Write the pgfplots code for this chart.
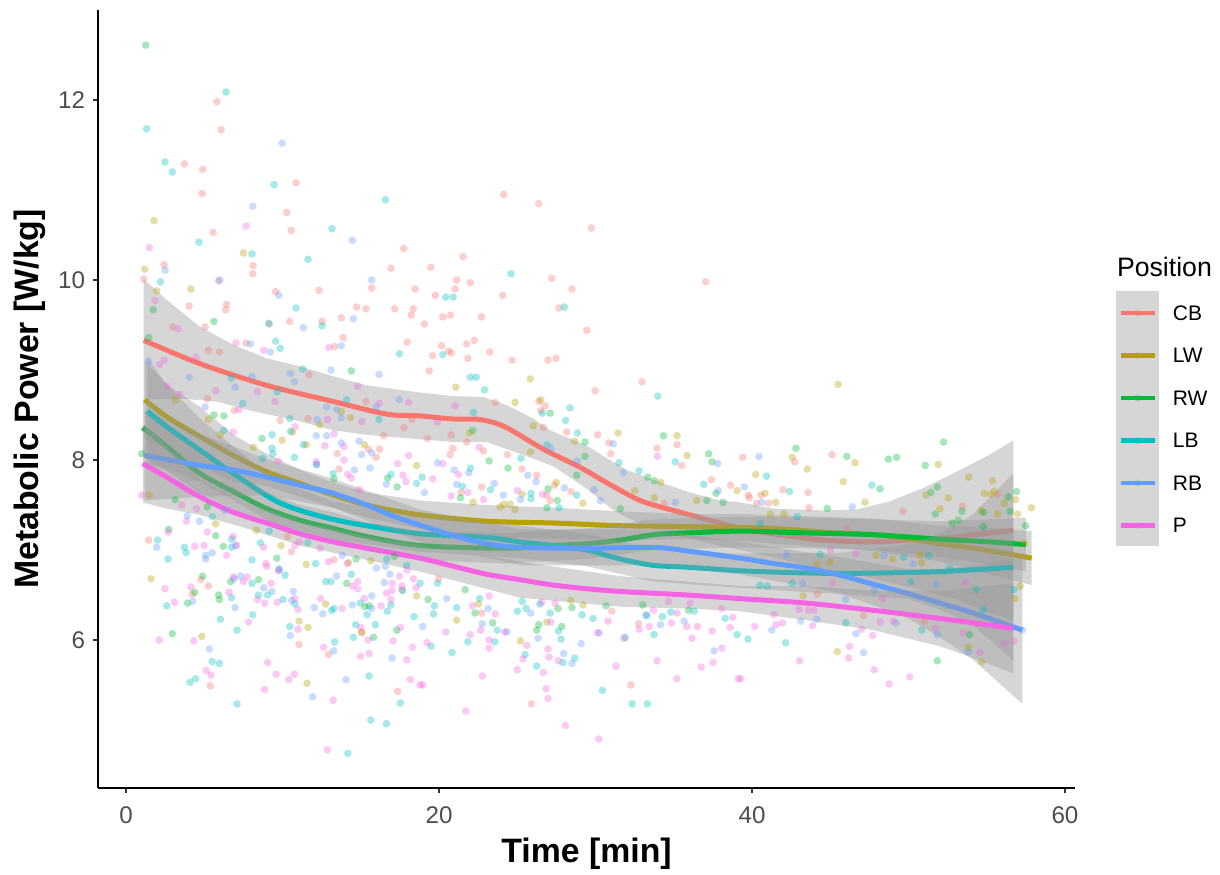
\documentclass[border=0pt]{standalone}
\usepackage{fontspec}
\setmainfont{Liberation Sans}
\usepackage{pgfplots}
\pgfplotsset{compat=1.18}
\definecolor{cCB}{HTML}{F8766D}
\definecolor{cLW}{HTML}{B79F00}
\definecolor{cRW}{HTML}{00BA38}
\definecolor{cLB}{HTML}{00BFC4}
\definecolor{cRB}{HTML}{619CFF}
\definecolor{cP}{HTML}{F564E3}
\definecolor{band}{HTML}{999999}
\definecolor{ticktext}{HTML}{4D4D4D}
\definecolor{tickline}{HTML}{333333}
\pgfplotsset{
 pts/.style={only marks,mark=*,mark size=2.3pt,forget plot,mark options={draw=#1,draw opacity=0,line width=0pt,fill=#1,fill opacity=.35}},
 rib/.style={fill=band,fill opacity=.4,draw=none,forget plot},
 fit/.style={draw=#1,line width=3pt,smooth,tension=.5,no markers,forget plot,line join=round}
}
\begin{document}
\begin{tikzpicture}[x=1pt,y=1pt]
\useasboundingbox (0,0) rectangle (732,525);
\begin{axis}[
 at={(58.8pt,52.2pt)},anchor=south west,
 scale only axis,width=586.2pt,height=466.8pt,
 xmin=-1.79,xmax=60.64,ymin=4.356,ymax=13,
 axis x line*=bottom,axis y line*=left,
 axis line style={-,line width=.85pt,black},
 xtick={0,20,40,60},ytick={6,8,10,12},
 tick style={tickline,line width=.7pt},
 tick align=outside,major tick length=3pt,
 tick label style={font=\fontsize{14.5}{14.5}\selectfont,text=ticktext},
 xticklabel style={yshift=-4.6pt},
 yticklabel style={xshift=-1.2pt},
 /pgf/number format/assume math mode=true,
 xtick pos=bottom,ytick pos=left,
 xlabel={Time [min]},ylabel={Metabolic Power [W/kg]},
 label style={font=\bfseries\fontsize{20.3}{20.3}\selectfont},
 xlabel style={at={(axis description cs:0.5,0)},anchor=center,yshift=-39.3pt},
 ylabel style={at={(axis description cs:0,0.5)},anchor=center,yshift=41pt},
 clip=false
]
% scatter
\addplot[pts=cCB] coordinates {(5.8,11.98)(6.08,11.67)(3.73,11.29)(4.9,11.23)(4.86,10.96)(10.86,11.08)(10.27,10.75)(10.56,10.55)(5.56,10.53)(2.43,10.17)(8.12,10.16)(17.74,10.35)(16.93,10.13)
(24.14,10.95)(26.37,10.85)(29.74,10.58)(21.54,10.26)(19.47,10.14)(21.13,10.0)(22.0,9.97)(27.2,10.02)(28.5,9.9)(21.03,9.9)(19.77,9.83)(24.07,9.83)(37.04,9.98)(27.67,9.69)(20.24,9.59)(20.73,9.61)(22.71,9.59)(19.07,9.51)(29.44,9.44)(22.26,9.33)(21.77,9.29)(20.17,9.27)(20.6,9.21)(20.79,9.19)(19.6,9.16)(21.84,9.13)(23.24,9.2)(24.67,9.11)(26.97,9.11)(27.48,9.13)(19.37,8.99)(32.97,8.87)(29.97,8.77)(26.39,8.65)(26.78,8.6)(26.5,8.55)(23.6,8.64)(26.67,8.36)
(1.13,10.01)(8.1,10.07)(5.92,9.99)(9.56,9.87)(12.33,9.885)(15.7,9.91)(18.47,9.9)(4.03,9.71)(6.43,9.73)(6.37,9.67)(14.74,9.7)(15.34,9.68)(17.17,9.68)(18.36,9.68)(18.23,9.61)(13.76,9.58)(10.46,9.54)(12.53,9.54)(9.16,9.51)(5.05,9.48)(2.98,9.48)(13.87,9.36)(7.67,9.3)(17.96,9.31)(13.33,9.26)(5.26,9.22)(5.97,9.2)(11.69,8.95)(5.2,8.68)(15.34,8.65)(6.92,8.55)(9.84,8.44)(11.63,8.46)(17.77,8.36)(18.28,8.45)(16.47,8.27)(13.5,8.07)(16.21,8.12)(15.49,8.12)(15.98,8.03)(13.61,7.9)
(1.45,7.11)(10.57,6.98)(13.29,6.89)(4.79,6.67)(5.26,6.6)(4.22,6.51)(11.06,5.95)(12.93,5.84)(5.39,5.49)(17.36,5.43)(17.62,6.56)(10.33,7.15)(15.06,6.08)
(25.9,5.29)(32.27,5.5)(22.73,6.3)(32.74,6.18)(31.04,6.32)(19.98,6.68)(30.14,8.28)(30.85,8.19)(30.97,8.07)(33.93,8.13)(35.21,8.17)(35.51,7.94)(37.4,7.78)(38.64,7.72)(20.88,8.13)(20.71,8.06)(21.77,8.2)(22.84,8.1)(24.37,8.06)(25.31,7.9)(26.24,7.83)(27.37,7.72)(22.73,7.7)(21.41,7.64)(26.88,7.61)(27.1,7.55)(28.44,7.65)(34.4,7.52)(20.77,8.28)(19.26,8.24)(28.16,8.31)
(39.4,8.03)(42.74,7.98)(45.11,8.06)(41.98,7.67)(43.58,7.64)(39.76,7.61)(40.57,7.61)(41.06,7.52)(40.29,7.52)(43.64,7.47)(49.65,7.43)(53.44,7.49)(55.69,7.62)(46.05,7.24)(44.17,6.51)(47.13,6.27)(39.83,7.58)(51.01,6.21)};
\addplot[pts=cLW] coordinates {(1.79,10.66)(7.5,10.3)(1.2,10.12)(21.07,8.81)(25.84,8.9)(26.5,8.67)(24.86,8.64)(26.03,8.38)
(1.96,9.88)(4.15,9.9)(5.26,8.45)(10.63,8.31)(9.97,8.22)(8.14,8.14)(11.52,8.17)(15.23,8.17)(12.38,8.39)(13.76,8.54)(14.34,8.47)(6.01,8.28)(18.57,7.94)(1.49,7.61)(3.15,8.67)
(5.73,7.29)(8.33,7.22)(9.9,7.05)(11.52,6.84)(15.64,6.88)(1.6,6.68)(4.84,6.04)(11.06,6.21)(11.63,6.14)(12.76,6.4)(11.57,5.52)(14.21,6.86)(18.57,6.49)(15.06,6.09)
(21.13,6.22)(25.2,5.99)(26.88,6.2)(22.52,6.4)(29.2,6.39)(28.42,6.44)(31.44,8.3)(35.21,8.27)(35.85,8.05)(34.17,7.75)(32.5,7.66)(33.76,7.58)(27.5,7.75)(28.67,8.21)(25.84,8.09)(22.18,7.53)(25.31,7.62)(23.9,7.48)(24.14,7.51)(24.54,7.51)(24.86,7.45)(29.19,7.52)(39.05,7.66)(36.47,7.55)(21.94,8.3)
(42.57,8.03)(46.58,7.97)(43.53,7.9)(40.23,7.84)(45.83,7.76)(47.22,7.53)(51.9,7.95)(53.84,7.81)(55.37,7.77)(51.11,7.61)(52.54,7.58)(52.01,7.46)(54.84,7.63)(55.48,7.65)(55.25,7.62)(56.12,7.52)(56.84,7.56)(57.85,7.47)(56.97,7.4)(54.63,7.44)(55.69,7.4)(40.83,7.63)(41.51,7.53)(42.06,7.4)(41.17,7.4)(45.45,5.87)(54.67,5.76)(53.84,5.92)(57.14,6.6)(56.8,6.46)(43.28,6.49)(47.92,6.94)(44.15,6.84)(44.98,6.86)(50.73,6.95)(50.84,6.86)(48.99,6.9)(57.42,7.08)(45.5,8.84)};
\addplot[pts=cRW] coordinates {(1.26,12.61)(27.1,8.52)(22.16,8.33)
(5.62,9.54)(1.73,9.67)(1.45,9.36)(14.4,8.99)(5.62,8.5)(6.26,8.49)(8.69,8.24)(16.72,7.8)(17.32,7.7)(13.29,7.79)(1.0,8.07)(3.15,7.56)(5.2,7.48)
(2.73,7.23)(5.73,7.16)(6.22,7.04)(9.63,6.91)(4.9,6.71)(6.69,6.65)(8.46,6.67)(4.39,6.53)(3.94,6.41)(5.92,6.5)(5.97,6.45)(2.96,6.07)(14.1,6.63)(14.7,6.9)(15.27,6.37)(15.53,6.38)(17.3,6.11)(15.81,6.03)(17.15,6.93)
(19.3,6.45)(21.67,6.56)(22.3,6.3)(23.43,6.19)(26.37,6.17)(26.24,6.11)(27.84,6.15)(30.67,6.38)(28.5,6.36)(27.61,6.35)(35.94,6.33)(33.02,6.39)(29.33,8.2)(29.33,8.04)(34.34,8.27)(37.23,8.07)(37.45,7.98)(37.7,7.63)(23.2,7.99)(24.41,7.91)(21.37,7.58)(27.56,7.55)(26.9,7.47)(28.8,7.83)(33.34,7.81)(33.76,7.77)(31.59,7.46)(37.11,7.55)(38.15,7.53)(26.97,7.68)
(42.81,8.13)(46.05,8.04)(48.71,8.01)(49.24,8.03)(51.07,7.94)(52.24,8.2)(48.18,7.68)(44.81,7.46)(51.43,7.64)(51.84,7.7)(56.91,7.65)(56.38,7.59)(56.48,7.43)(51.71,7.4)(52.78,7.3)(53.18,7.33)(53.42,7.43)(54.78,7.42)(57.48,7.27)(51.84,5.77)(54.78,7.26)(53.88,6.06)};
\addplot[pts=cLB] coordinates {(1.32,11.68)(6.39,12.09)(2.49,11.31)(2.96,11.2)(9.46,11.06)(16.57,10.89)(13.16,10.57)(4.66,10.42)(8.05,10.29)(11.63,10.23)
(24.6,10.07)(20.43,9.81)(20.9,9.81)(28.01,9.7)(20.24,9.17)(22.0,8.92)(22.37,8.92)(22.9,8.78)(33.98,8.71)(28.37,8.58)(28.08,8.44)(26.6,8.52)(22.2,8.53)
(2.2,9.98)(10.86,9.69)(9.12,9.52)(12.53,9.49)(9.56,9.32)(9.86,9.24)(17.47,9.18)(11.29,9.01)(6.73,8.91)(9.67,8.76)(7.46,8.63)(14.1,8.67)(10.46,8.46)(16.17,8.45)(6.26,8.33)(10.52,8.32)(9.33,8.28)(9.33,8.13)(9.39,8.07)(11.33,8.17)(8.73,8.02)(10.76,8.03)(12.18,7.95)(13.23,7.85)(16.93,7.84)(18.57,7.74)
(2.02,7.11)(2.69,6.9)(5.52,7.37)(3.73,7.03)(3.84,6.97)(6.75,7.12)(6.75,7.03)(8.58,7.08)(8.05,6.89)(10.16,6.72)(9.8,6.79)(8.05,6.63)(9.05,6.5)(8.46,6.5)(6.75,6.47)(2.6,6.38)(6.03,6.23)(8.09,6.28)(7.09,6.11)(10.8,6.4)(10.03,6.45)(12.76,6.65)(13.1,6.65)(14.4,6.73)(14.97,6.41)(13.14,6.33)(13.29,6.35)(15.4,6.28)(15.93,6.17)(16.7,6.32)(16.93,6.39)(18.4,6.26)(10.46,6.15)(14.53,6.03)(14.68,6.17)(13.33,5.98)(5.5,5.76)(5.97,5.74)(4.09,5.53)(4.45,5.57)(7.09,5.29)(15.53,5.6)(17.53,5.3)(15.64,5.11)(16.64,5.07)(14.17,4.74)(12.12,6.85)(9.14,7.21)(11.61,7.08)(16.66,6.9)(17.94,6.83)(18.79,6.63)(17.68,6.55)
(19.49,5.93)(20.83,5.86)(21.84,5.98)(23.56,5.98)(23.73,6.11)(25.5,5.84)(26.24,5.71)(27.8,6.01)(27.63,6.1)(27.91,5.75)(28.67,5.8)(30.44,5.44)(32.34,5.29)(33.32,5.29)(31.89,6.03)(33.74,6.06)(39.05,6.06)(34.28,6.26)(34.81,6.31)(38.28,6.24)(36.3,6.32)(33.27,6.27)(29.84,6.24)(29.14,6.28)(25.01,6.32)(25.56,6.35)(26.44,6.4)(27.1,6.3)(19.71,6.38)(19.64,6.29)(21.13,6.36)(22.6,6.46)(19.9,6.63)(25.31,6.43)(21.5,7.71)(22.01,7.91)(23.3,7.67)(25.88,7.63)(25.88,7.57)(28.8,7.61)(27.67,7.47)(26.9,8.17)(28.84,8.3)(25.24,8.02)(31.5,7.97)(32.78,7.88)(36.92,7.73)(35.1,7.98)(18.92,7.81)
(40.93,7.82)(42.4,7.65)(47.66,7.72)(51.29,6.94)(39.74,6.01)(42.15,5.97)(46.0,6.19)(50.84,6.11)(40.51,6.61)(40.98,6.6)(42.57,6.63)(42.89,7.37)(40.51,7.29)(49.69,6.92)(44.34,6.95)(50.14,6.65)(54.35,6.56)(54.78,6.34)(52.65,6.8)(56.74,6.56)};
\addplot[pts=cRB] coordinates {(9.97,11.52)(8.1,10.82)(14.46,10.44)(2.5,10.11)(5.99,10.0)(9.76,9.83)(15.7,10.0)(11.33,9.47)(14.53,9.57)(7.95,9.29)(9.22,9.2)(13.76,9.27)(13.1,9.0)(16.17,8.95)(1.45,9.1)(4.03,8.92)(6.97,8.81)(8.05,8.93)(10.5,8.96)(10.76,8.87)(5.05,8.59)(12.82,8.59)(13.46,8.56)(15.98,8.59)(17.47,8.67)(13.76,8.47)(12.21,8.45)(12.16,8.27)(12.82,8.27)(13.76,8.19)(14.89,8.21)(15.06,8.06)(15.7,8.08)(12.16,7.95)(14.59,7.89)(15.59,7.91)(16.64,7.73)
(3.92,7.38)(4.69,7.32)(1.96,7.03)(5.5,6.97)(5.09,6.94)(5.09,6.9)(6.99,7.05)(7.33,6.71)(6.92,6.68)(8.8,6.58)(9.33,6.54)(10.69,6.54)(10.59,6.44)(4.26,6.43)(6.97,6.36)(12.04,6.36)(12.57,6.29)(14.46,6.39)(15.7,6.49)(15.7,6.35)(13.46,6.71)(16.0,6.8)(16.57,6.82)(16.87,6.73)(16.51,6.64)(10.5,6.05)(5.33,5.9)(13.27,5.88)(17.0,5.8)(14.06,5.56)(11.93,5.37)(6.3,7.44)(9.76,6.78)(13.82,6.94)
(18.96,6.15)(20.49,6.46)(23.13,6.35)(22.77,6.18)(24.33,6.09)(26.33,6.02)(27.97,5.85)(28.5,5.74)(29.08,5.96)(37.58,5.88)(30.23,6.08)(34.15,6.17)(35.66,6.21)(33.23,6.28)(25.86,6.3)(19.9,7.97)(20.96,7.89)(21.9,7.86)(21.13,7.73)(19.07,7.64)(23.54,7.74)(24.11,7.61)(25.2,7.56)(25.67,7.83)(26.2,7.76)(28.01,7.69)(29.91,7.67)(30.31,7.55)(31.78,7.86)(35.1,7.53)(37.81,7.96)(37.85,7.66)(31.14,8.18)(27.16,8.13)(28.84,7.99)
(40.44,8.04)(39.51,7.7)(40.64,7.53)(46.41,7.48)(43.11,6.21)(41.27,6.11)(44.15,6.23)(46.64,6.07)(47.13,5.86)(53.82,5.87)(51.84,6.06)(57.27,6.11)(49.2,6.19)(48.43,6.94)(42.21,6.95)(45.98,6.45)(47.81,6.55)(51.78,6.62)(50.3,6.85)(43.23,6.63)};
\addplot[pts=cP] coordinates {(7.67,10.6)(1.49,10.36)(21.03,8.6)(19.9,8.42)
(1.85,9.77)(3.32,9.46)(7.03,9.3)(8.8,9.22)(12.97,9.25)(2.13,9.06)(2.43,9.11)(4.47,9.14)(2.62,8.82)(5.73,8.77)(3.43,8.73)(8.39,8.76)(9.52,8.65)(14.8,8.82)(16.17,8.63)(18.06,8.64)(7.22,8.56)(12.87,8.45)(15.06,8.43)(10.8,8.37)(6.86,8.31)(13.29,8.29)(12.7,8.16)(13.93,8.15)(9.73,7.99)(12.16,7.98)(13.93,8.0)(17.36,7.96)(18.06,8.05)(14.17,7.84)(14.4,7.8)(17.7,7.83)(17.89,7.76)(1.0,7.61)(3.56,7.5)(4.5,7.46)(14.89,7.67)
(3.86,7.32)(2.69,7.2)(5.2,7.2)(6.86,7.15)(4.39,7.04)(4.99,7.05)(7.07,7.05)(6.43,6.94)(8.8,7.03)(10.8,7.05)(8.93,6.85)(8.99,6.82)(9.76,6.77)(12.93,6.87)(14.14,6.85)(2.49,6.57)(4.15,6.59)(3.09,6.42)(6.86,6.7)(7.75,6.7)(7.5,6.65)(9.27,6.63)(6.58,6.53)(8.39,6.45)(8.86,6.41)(9.67,6.42)(10.8,6.46)(10.99,6.34)(12.44,6.46)(13.8,6.35)(15.23,6.46)(16.3,6.38)(16.93,6.45)(17.0,6.63)(17.0,6.55)(16.64,6.52)(17.47,6.71)(17.64,6.6)(18.36,6.68)(18.53,6.58)(17.96,6.78)(14.8,6.65)(14.46,6.6)(14.8,6.57)(7.82,6.2)(2.13,6.0)(4.33,5.99)(10.99,6.12)(12.63,5.92)(14.99,5.82)(15.53,5.85)(14.99,6.14)(15.46,6.0)(17.06,5.99)(17.53,6.14)(18.3,5.92)(17.94,5.78)(9.05,5.75)(5.13,5.66)(5.43,5.61)(9.59,5.62)(10.76,5.62)(10.4,5.56)(8.86,5.45)(13.23,5.33)(18.17,5.56)(12.87,4.78)(18.79,5.5)(12.4,7.02)(11.06,7.09)
(18.96,5.5)(21.71,5.21)(22.77,5.6)(28.08,5.05)(30.21,4.9)(26.67,5.64)(26.84,5.46)(26.97,5.35)(25.01,5.67)(25.37,5.79)(25.61,5.94)(27.03,5.81)(26.97,5.9)(27.63,5.77)(31.31,5.71)(33.93,5.77)(36.75,5.7)(37.51,5.75)(38.07,5.91)(35.19,5.57)(39.13,5.57)(20.43,6.09)(22.0,6.06)(22.67,6.11)(23.2,6.0)(23.2,5.91)(23.6,6.29)(24.2,6.09)(19.24,5.97)(30.8,6.21)(31.82,6.02)(32.8,6.12)(33.44,6.15)(34.85,6.19)(35.21,6.3)(35.85,6.15)(36.51,6.15)(36.17,6.02)(37.45,6.1)(38.6,6.14)(38.77,6.25)(30.12,6.08)(27.14,6.2)(22.13,6.38)(23.2,6.49)(26.56,6.42)(27.42,6.41)(33.7,6.33)(34.66,6.43)(36.04,6.41)(38.07,6.35)(20.77,7.6)(19.6,7.79)(20.24,7.96)(21.24,7.84)(21.84,7.64)(22.84,7.56)(25.01,7.66)(26.61,7.62)(22.56,8.14)(33.95,8.04)
(40.17,6.15)(41.4,6.28)(41.53,6.17)(41.94,6.19)(43.87,6.16)(43.04,5.77)(46.24,5.93)(46.17,5.8)(47.0,6.12)(47.71,6.05)(47.81,5.67)(48.77,5.51)(50.07,5.59)(48.18,6.2)(49.03,6.21)(39.27,5.57)(56.14,5.96)(56.74,5.99)(54.57,5.86)(51.71,6.13)(53.5,6.08)(43.6,6.33)(43.0,6.34)(43.96,6.33)(48.35,6.46)(45.13,6.63)(46.64,6.96)(53.63,6.64)(45.02,7.0)};
% CB
\addplot[rib] coordinates {(1.13,10.01)(2.6,9.78)(4.73,9.48)(6.86,9.28)(8.99,9.13)(11.12,9.04)(13.25,8.93)(15.38,8.83)(17.5,8.78)(18.79,8.75)(20.92,8.71)(22.84,8.7)(24.33,8.61)(26.03,8.46)(27.1,8.33)(29.44,8.16)(30.72,8.02)(32.0,7.89)(33.7,7.78)(35.83,7.65)(37.96,7.55)(39.24,7.53)(41.36,7.46)(44.55,7.44)(46.68,7.45)(48.8,7.54)(50.95,7.69)(53.07,7.87)(55.2,8.06)(56.7,8.22)
(56.7,6.22)(55.2,6.3)(53.07,6.45)(50.95,6.55)(48.8,6.64)(46.68,6.73)(44.55,6.78)(41.36,6.92)(39.24,7.0)(36.9,7.09)(34.76,7.18)(32.63,7.31)(31.14,7.44)(29.44,7.68)(27.31,7.93)(25.18,8.07)(23.05,8.2)(20.92,8.2)(18.79,8.23)(15.38,8.28)(13.25,8.33)(11.12,8.43)(7.93,8.55)(5.8,8.65)(3.66,8.68)(1.13,8.67)};
\addplot[fit=cCB] coordinates {(1.13,9.33)(4.73,9.07)(8.99,8.83)(13.25,8.65)(16.66,8.51)(18.79,8.49)(20.92,8.455)(22.6,8.45)(24.2,8.37)(26.67,8.12)(29,7.92)(31,7.72)(33,7.54)(35.83,7.40)(37.96,7.30)(39.24,7.24)(41.36,7.18)(44.55,7.11)(47.75,7.09)(49.88,7.11)(52.01,7.13)(54.14,7.17)(56.7,7.22)};
% LW
\addplot[rib] coordinates {(1.19,9.10)(2.6,8.84)(4.73,8.59)(6.86,8.28)(8.99,8.07)(11.12,7.89)(13.25,7.75)(15.38,7.64)(18.79,7.55)(23.05,7.5)(27.31,7.47)(31.57,7.43)(35.83,7.4)(39.24,7.4)(44.55,7.37)(47.75,7.35)(52.01,7.27)(54.14,7.26)(57.87,7.21)
(57.87,6.61)(54.14,6.78)(52.01,6.87)(47.75,6.99)(44.55,7.03)(39.24,7.1)(35.83,7.12)(31.57,7.11)(27.31,7.13)(23.05,7.14)(18.79,7.23)(15.38,7.36)(13.25,7.47)(11.12,7.59)(8.99,7.71)(6.86,7.76)(4.73,7.93)(2.6,8.12)(1.19,8.24)};
\addplot[fit=cLW] coordinates {(1.19,8.67)(2.6,8.48)(4.73,8.26)(6.86,8.05)(8.99,7.87)(11.12,7.74)(13.25,7.61)(15.38,7.5)(18.79,7.39)(23.05,7.32)(27.31,7.3)(31.57,7.27)(35.83,7.26)(39.24,7.25)(41.36,7.24)(44.55,7.2)(47.75,7.17)(49.88,7.13)(52.01,7.07)(54.14,7.02)(56.27,6.96)(57.87,6.91)};
% RW
\addplot[rib] coordinates {(1.07,8.68)(2.6,8.42)(4.73,8.07)(6.86,7.85)(8.99,7.64)(11.12,7.5)(13.25,7.42)(15.38,7.31)(18.79,7.21)(24.1,7.19)(29.44,7.24)(33.7,7.34)(39.24,7.37)(43.49,7.36)(47.75,7.34)(52.01,7.32)(55.2,7.34)(57.5,7.36)
(57.5,6.76)(55.2,6.84)(52.01,6.92)(47.75,7.0)(43.49,7.02)(39.24,7.03)(33.7,7.0)(29.44,6.9)(24.1,6.85)(18.79,6.89)(15.38,6.99)(13.25,7.1)(11.12,7.16)(8.99,7.28)(6.86,7.45)(4.73,7.63)(2.6,7.88)(1.07,8.04)};
\addplot[fit=cRW] coordinates {(1.07,8.36)(2.6,8.15)(4.73,7.85)(6.86,7.65)(8.99,7.46)(11.12,7.33)(13.25,7.24)(15.38,7.15)(18.79,7.05)(24.1,7.02)(27.31,7.05)(29.44,7.07)(31.57,7.11)(33.7,7.17)(35.83,7.19)(39.24,7.21)(43.49,7.19)(47.75,7.17)(52.01,7.12)(55.2,7.09)(57.5,7.06)};
% LB
\addplot[rib] coordinates {(1.36,9.14)(2.6,8.84)(4.73,8.46)(6.86,8.15)(9.42,7.79)(13.25,7.54)(18.79,7.36)(25.18,7.27)(29.44,7.18)(33.7,7.01)(39.24,6.96)(45.62,6.97)(49.88,7.06)(52.01,7.18)(54.14,7.4)(56.7,7.85)
(56.7,5.77)(54.14,6.16)(52.01,6.34)(49.88,6.46)(45.62,6.51)(39.24,6.58)(33.7,6.65)(29.44,6.82)(25.18,6.91)(18.79,6.98)(13.25,7.12)(9.42,7.29)(6.86,7.55)(4.73,7.76)(2.6,7.9)(1.36,7.94)};
\addplot[fit=cLB] coordinates {(1.36,8.54)(2.6,8.37)(4.73,8.11)(6.86,7.85)(9.42,7.56)(11.12,7.44)(13.25,7.34)(15.38,7.27)(18.79,7.18)(23.05,7.14)(25.18,7.09)(27.31,7.05)(29.44,7.0)(31.57,6.9)(33.7,6.83)(35.83,6.81)(39.24,6.77)(42.4,6.75)(45.62,6.74)(49.88,6.75)(52.01,6.76)(54.14,6.78)(56.7,6.81)};
% RB
\addplot[rib] coordinates {(1.19,8.55)(4.73,8.29)(8.99,8.01)(13.25,7.79)(18.79,7.45)(25.18,7.23)(33.7,7.23)(39.24,7.09)(45.62,6.92)(49.88,6.79)(52.01,6.79)(54.14,6.82)(57.27,6.93)
(57.27,5.29)(54.14,5.78)(52.01,6.03)(49.88,6.25)(45.62,6.52)(39.24,6.73)(33.7,6.83)(25.18,6.83)(18.79,7.09)(13.25,7.47)(8.99,7.61)(4.73,7.59)(1.19,7.55)};
\addplot[fit=cRB] coordinates {(1.19,8.05)(4.73,7.94)(6.86,7.89)(8.99,7.81)(11.12,7.72)(13.25,7.63)(15.38,7.5)(17.5,7.35)(20.92,7.16)(23.05,7.07)(25.18,7.03)(29.44,7.02)(33.7,7.03)(35.83,6.99)(39.24,6.91)(41.36,6.85)(43.49,6.8)(45.62,6.72)(47.75,6.62)(49.88,6.52)(52.01,6.41)(54.14,6.3)(57.27,6.11)};
% P
\addplot[rib] coordinates {(1.07,8.39)(2.6,8.16)(4.73,7.79)(7.5,7.55)(11.12,7.31)(15.38,7.15)(18.79,7.06)(25.18,6.87)(31.57,6.71)(35.83,6.65)(39.24,6.6)(43.49,6.6)(47.75,6.55)(52.01,6.55)(54.14,6.58)(56.7,6.63)
(56.7,5.63)(54.14,5.8)(52.01,5.93)(47.75,6.11)(43.49,6.22)(39.24,6.32)(35.83,6.35)(31.57,6.37)(25.18,6.47)(18.79,6.76)(15.38,6.89)(11.12,7.05)(7.5,7.25)(4.73,7.39)(2.6,7.46)(1.07,7.53)};
\addplot[fit=cP] coordinates {(1.07,7.96)(2.6,7.81)(4.73,7.59)(6.86,7.42)(8.99,7.3)(11.12,7.18)(13.25,7.09)(15.38,7.02)(18.79,6.91)(20.92,6.82)(23.05,6.73)(25.18,6.67)(27.31,6.61)(29.44,6.57)(31.57,6.54)(35.83,6.5)(39.24,6.46)(43.49,6.41)(47.75,6.33)(52.01,6.24)(56.7,6.13)};
\end{axis}
% legend (px*0.6, y flipped)
\node[anchor=west,inner sep=0,font=\fontsize{16}{16}\selectfont] at (670,364.8) {Position};
\fill[band!40!white] (669.6,197.4) rectangle (695.4,350.4);
\foreach \yy/\cc/\tt in {337.2/cCB/CB,311.7/cLW/LW,286.2/cRW/RW,260.7/cLB/LB,235.2/cRB/RB,209.7/cP/P}{
 \draw[\cc,line width=2.9pt] (672.3,\yy) -- (692.7,\yy);
 \fill[\cc,opacity=.25] (682.5,\yy) circle (2.15pt);
 \node[anchor=west,inner sep=0,font=\fontsize{12.6}{12.6}\selectfont] at (703.5,\yy) {\tt};
}
\end{tikzpicture}
\end{document}
